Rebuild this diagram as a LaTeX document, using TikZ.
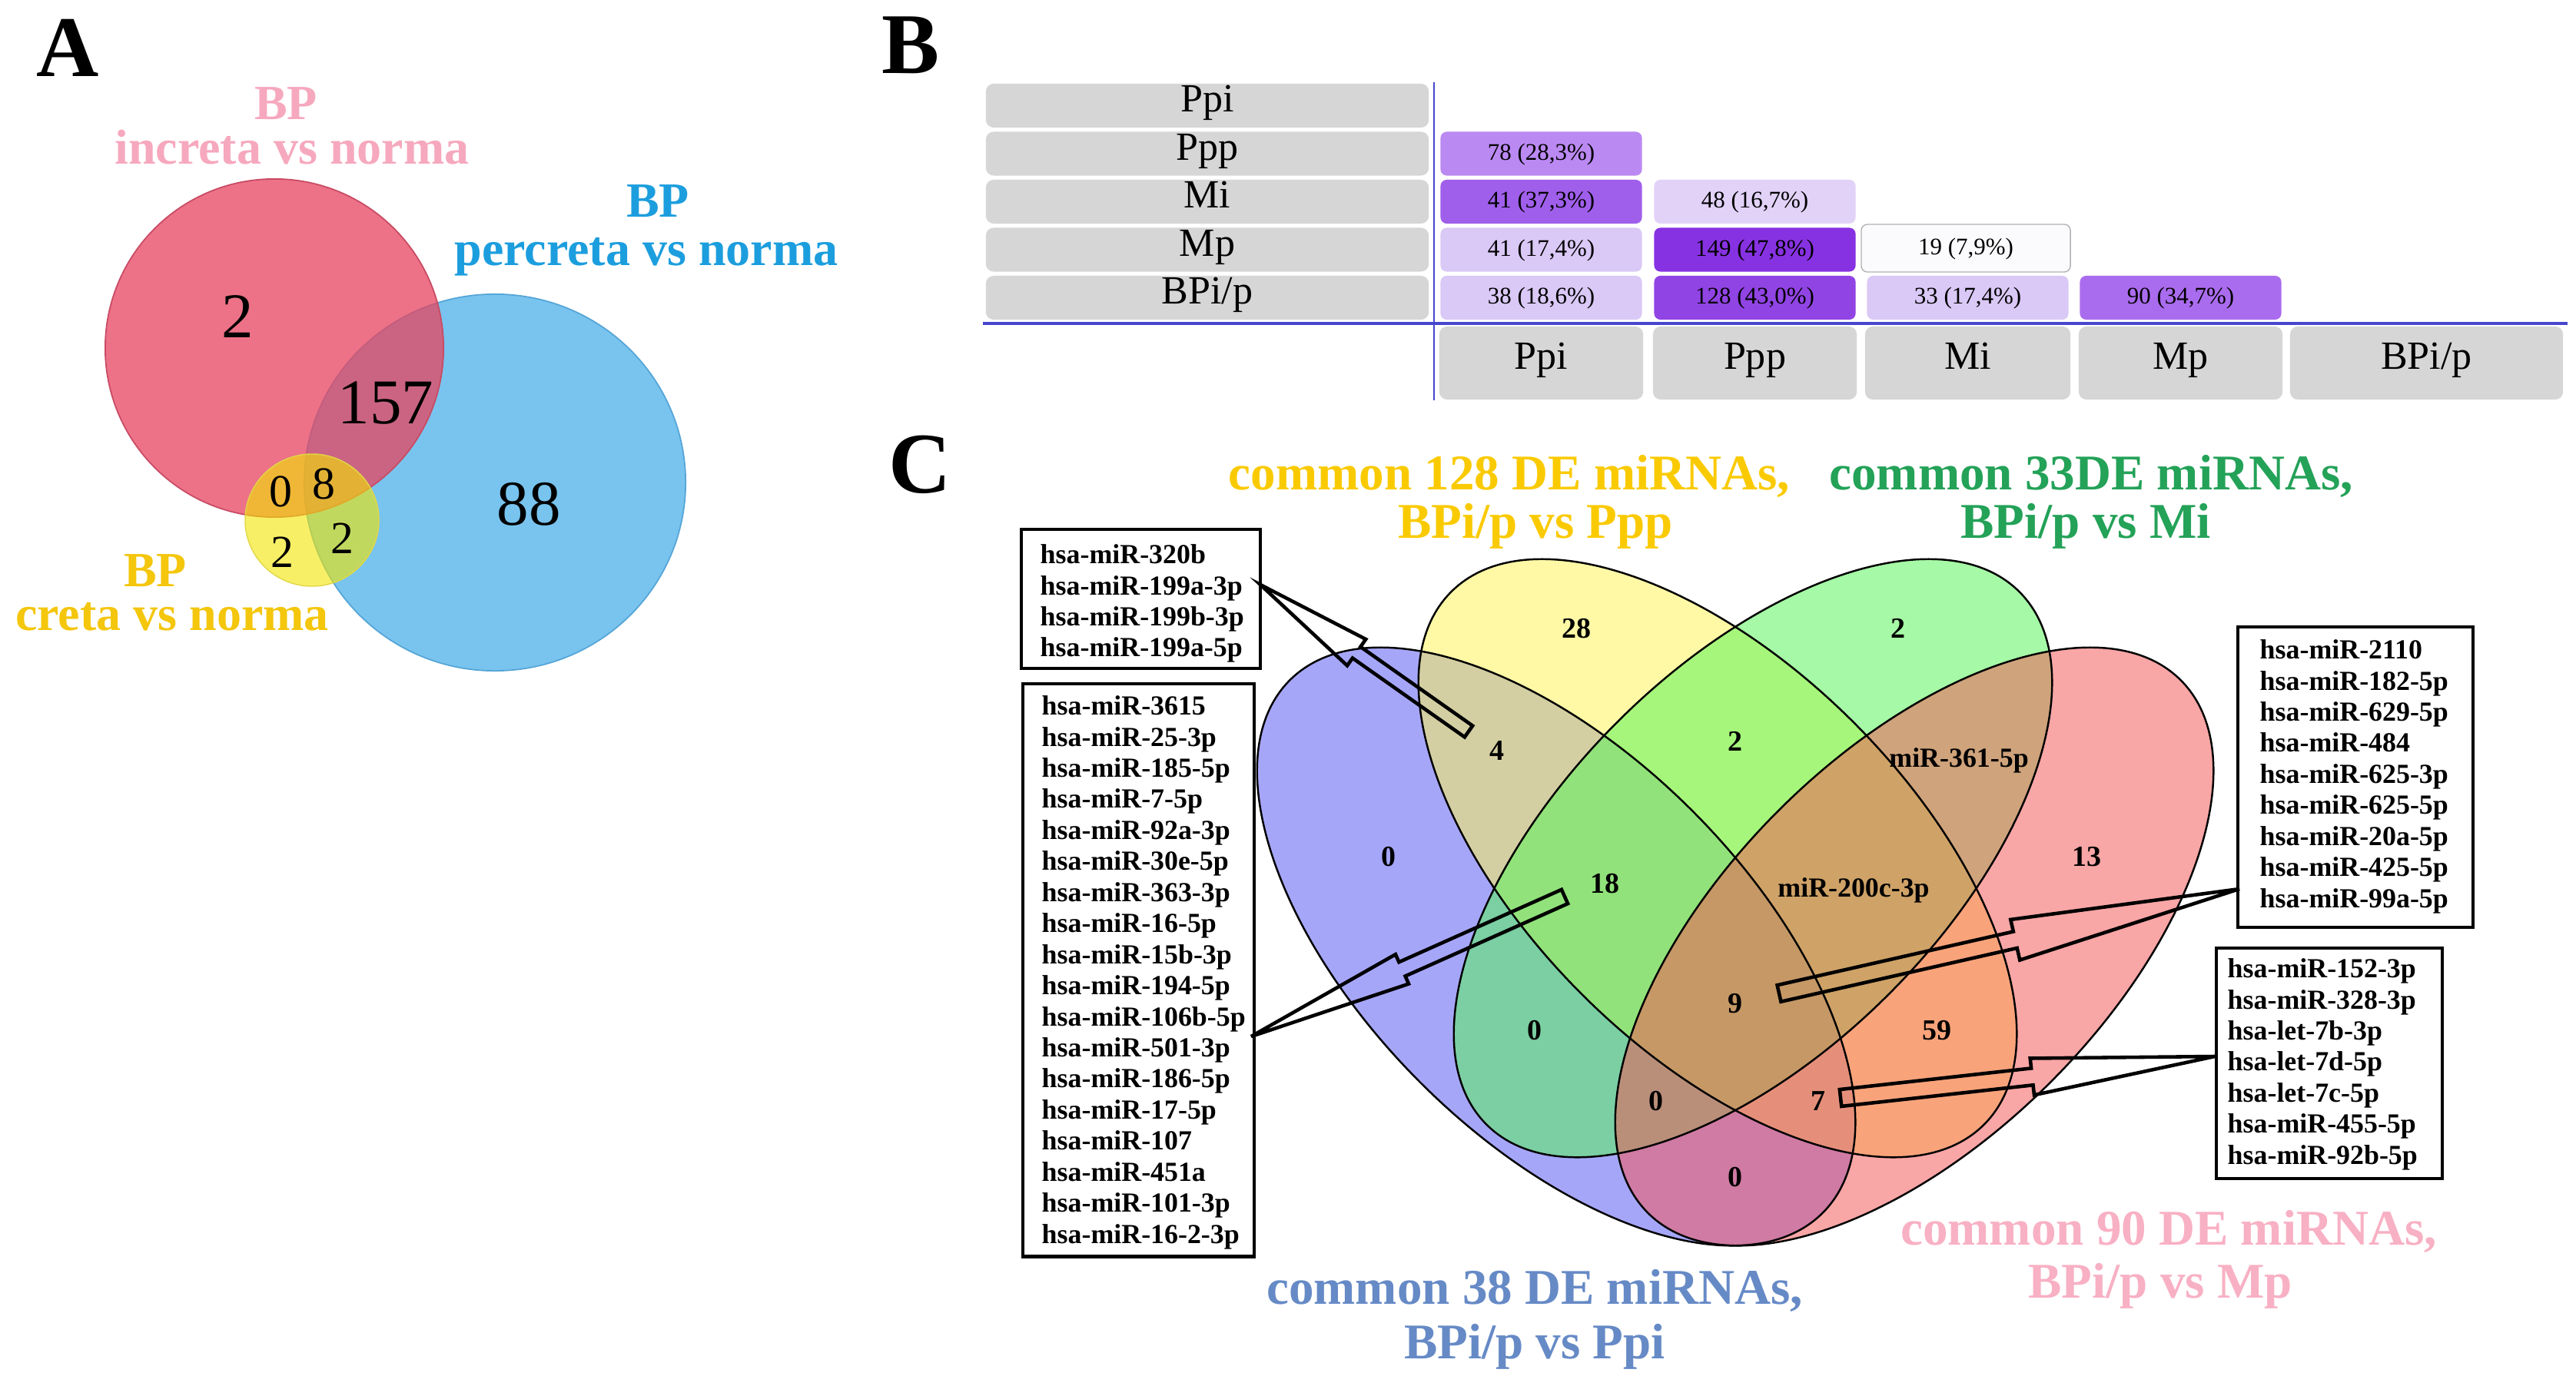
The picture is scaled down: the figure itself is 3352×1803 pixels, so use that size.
\documentclass[tikz,border=0pt]{standalone}
\usepackage{fontspec}
\setmainfont{Liberation Serif}
\usetikzlibrary{calc}
\definecolor{pinkA}{RGB}{246,168,190}
\definecolor{blueA}{RGB}{28,158,222}
\definecolor{yellowA}{RGB}{244,198,12}
\definecolor{redC}{RGB}{232,68,95}
\definecolor{redE}{RGB}{200,75,100}
\definecolor{blueC}{RGB}{120,196,238}
\definecolor{blueE}{RGB}{85,165,215}
\definecolor{yelC}{RGB}{243,230,0}
\definecolor{yelE}{RGB}{225,215,70}
\definecolor{gbox}{RGB}{214,214,214}
\definecolor{blin}{RGB}{70,70,205}
\definecolor{pA}{RGB}{187,137,242}
\definecolor{pB}{RGB}{160,95,235}
\definecolor{pC}{RGB}{226,210,248}
\definecolor{pD}{RGB}{218,200,246}
\definecolor{pE}{RGB}{135,50,226}
\definecolor{pF}{RGB}{251,250,253}
\definecolor{pG}{RGB}{145,68,228}
\definecolor{pH}{RGB}{170,108,238}
\definecolor{vblue}{RGB}{85,85,245}
\definecolor{vyel}{RGB}{255,245,85}
\definecolor{vgreen}{RGB}{85,245,85}
\definecolor{vpink}{RGB}{245,85,85}
\definecolor{tyel}{RGB}{250,202,0}
\definecolor{tgreen}{RGB}{35,162,88}
\definecolor{tblue}{RGB}{102,138,198}
\definecolor{tpink}{RGB}{248,176,196}
\newcommand{\fsz}[2]{\fontsize{#1}{#2}\selectfont}
% tip, end, head length, head half-width, shaft half-width
\newcommand{\blockarrow}[5]{%
  \draw[blockarr] (#1) -- ($(#1)!#3!(#2)!#4!90:(#2)$) -- ($(#1)!#3!(#2)!#5!90:(#2)$)
   -- ($(#2)!#5!-90:(#1)$) -- ($(#2)!#5!90:(#1)$)
   -- ($(#1)!#3!(#2)!#5!-90:(#2)$) -- ($(#1)!#3!(#2)!#4!-90:(#2)$) -- cycle;}
\begin{document}
\begin{tikzpicture}[x=0.01cm,y=-0.01cm,
  panel/.style={font=\bfseries\fsz{32}{34}, anchor=base, inner sep=0},
  alab/.style={font=\bfseries\fsz{18.2}{20}, anchor=base, inner sep=0},
  anumbig/.style={font=\fsz{23.6}{25}, anchor=base, inner sep=0},
  anumsm/.style={font=\fsz{17}{18}, anchor=base, inner sep=0},
  rowlab/.style={fill=gbox, rounded corners=0.1cm, minimum width=5.76cm, minimum height=0.57cm, inner sep=0, font=\fsz{14.8}{16}, text height=0.68em, text depth=0.2em},
  collab/.style={fill=gbox, rounded corners=0.1cm, minimum height=0.95cm, inner sep=0, font=\fsz{14.8}{16}, text height=0.68em, text depth=0.2em},
  cell/.style={rounded corners=0.08cm, minimum width=2.62cm, minimum height=0.57cm, inner sep=0, font=\fsz{8.8}{10}, text height=0.68em, text depth=0.2em},
  ctitle/.style={font=\bfseries\fsz{18.5}{20}, anchor=base, inner sep=0},
  vnum/.style={font=\bfseries\fsz{10.8}{12}, inner sep=0},
  vmir/.style={font=\bfseries\fsz{10.2}{12}, inner sep=0},
  listbox/.style={draw=black, line width=1.2pt, fill=white, inner sep=0, anchor=north west},
  listtext/.style={font=\bfseries\fsz{10.2}{11.5}, align=left, inner sep=0, anchor=north west},
  blockarr/.style={draw=black, line width=1.3pt, line join=miter},
  vfill/.style={fill opacity=0.52},
  vedge/.style={draw=black, line width=0.7pt}
]
\fill[white] (0,0) rectangle (3352,1803);
\useasboundingbox (0,0) rectangle (3352,1803);

% ================= Panel A =================
\node[panel] (labA) at (88,100) {A};
\fill[blueC] (644,628) ellipse [x radius=2.48cm, y radius=2.45cm];
\draw[blueE, line width=0.5pt] (644,628) ellipse [x radius=2.48cm, y radius=2.45cm];
\fill[redC, fill opacity=0.75] (357,453) circle [radius=2.2cm];
\draw[redE, line width=0.5pt] (357,453) circle [radius=2.2cm];
\fill[yelC, fill opacity=0.6] (406,677) ellipse [x radius=0.87cm, y radius=0.86cm];
\draw[yelE, line width=0.4pt] (406,677) ellipse [x radius=0.87cm, y radius=0.86cm];

\node[alab, text=pinkA] (aBP1) at (372,156) {BP};
\node[alab, text=pinkA] (aInc) at (380,213) {increta vs norma};
\node[alab, text=blueA] (aBP2) at (856,282) {BP};
\node[alab, text=blueA] (aPer) at (841,345) {percreta vs norma};
\node[alab, text=yellowA] (aBP3) at (202,763) {BP};
\node[alab, text=yellowA] (aCre) at (224,820) {creta vs norma};

\node[anumbig] (n2) at (309,439) {2};
\node[anumbig] (n157) at (502,551) {157};
\node[anumbig] (n88) at (688,683) {88};
\node[anumsm] (n0) at (365,659) {0};
\node[anumsm] (n8) at (421,649) {8};
\node[anumsm] (n2a) at (367,738) {2};
\node[anumsm] (n2b) at (445,720) {2};

% ================= Panel B =================
\node[panel] (labB) at (1185,96) {B};
\node[rowlab] (rPpi) at (1571,137.5) {Ppi};
\node[rowlab] (rPpp) at (1571,200) {Ppp};
\node[rowlab] (rMi) at (1571,262.5) {Mi};
\node[rowlab] (rMp) at (1571,325) {Mp};
\node[rowlab] (rBP) at (1571,387.5) {BPi/p};

\node[collab, minimum width=2.65cm] (cPpi) at (2005.5,472.5) {Ppi};
\node[collab, minimum width=2.65cm] (cPpp) at (2283.5,472.5) {Ppp};
\node[collab, minimum width=2.67cm] (cMi) at (2560.5,472.5) {Mi};
\node[collab, minimum width=2.65cm] (cMp) at (2837.5,472.5) {Mp};
\node[collab, minimum width=3.55cm] (cBP) at (3157.5,472.5) {BPi/p};

\node[cell, fill=pA] (x21) at (2005.5,200) {78 (28,3\%)};
\node[cell, fill=pB] (x31) at (2005.5,262.5) {41 (37,3\%)};
\node[cell, fill=pC] (x32) at (2283.5,262.5) {48 (16,7\%)};
\node[cell, fill=pD] (x41) at (2005.5,325) {41 (17,4\%)};
\node[cell, fill=pE] (x42) at (2283.5,325) {149 (47,8\%)};
\node[cell, fill=pF, draw=black!30, line width=0.4pt, minimum width=2.72cm, minimum height=0.62cm] (x43) at (2558,323) {19 (7,9\%)};
\node[cell, fill=pD] (x51) at (2005.5,387.5) {38 (18,6\%)};
\node[cell, fill=pG] (x52) at (2283.5,387.5) {128 (43,0\%)};
\node[cell, fill=pD] (x53) at (2560.5,387.5) {33 (17,4\%)};
\node[cell, fill=pH] (x54) at (2837.5,387.5) {90 (34,7\%)};

\coordinate (vtop) at (1866,107);
\coordinate (vbot) at (1866,521);
\coordinate (hleft) at (1279,421);
\coordinate (hright) at (3341,421);
\draw[blin, line width=0.6pt] (vtop) -- (vbot);
\draw[blin, line width=1.1pt] (hleft) -- (hright);

% ================= Panel C =================
\node[panel] (labC) at (1197,641) {C};

\fill[vblue, vfill, rotate around={-45:(2025,1232)}] (2025,1232) ellipse [x radius=4.9cm, y radius=2.5cm];
\fill[vyel, vfill, rotate around={-45:(2235,1117)}] (2235,1117) ellipse [x radius=4.9cm, y radius=2.5cm];
\fill[vgreen, vfill, rotate around={45:(2281,1117)}] (2281,1117) ellipse [x radius=4.9cm, y radius=2.5cm];
\fill[vpink, vfill, rotate around={45:(2491,1232)}] (2491,1232) ellipse [x radius=4.9cm, y radius=2.5cm];
\draw[vedge, rotate around={-45:(2025,1232)}] (2025,1232) ellipse [x radius=4.9cm, y radius=2.5cm];
\draw[vedge, rotate around={-45:(2235,1117)}] (2235,1117) ellipse [x radius=4.9cm, y radius=2.5cm];
\draw[vedge, rotate around={45:(2281,1117)}] (2281,1117) ellipse [x radius=4.9cm, y radius=2.5cm];
\draw[vedge, rotate around={45:(2491,1232)}] (2491,1232) ellipse [x radius=4.9cm, y radius=2.5cm];

\node[ctitle, text=tyel] (t1a) at (1964,637) {common 128 DE miRNAs,};
\node[ctitle, text=tyel] (t1b) at (1998,700) {BPi/p vs Ppp};
\node[ctitle, text=tgreen] (t2a) at (2721,637) {common 33DE miRNAs,};
\node[ctitle, text=tgreen] (t2b) at (2714,700) {BPi/p vs Mi};
\node[ctitle, text=tblue] (t3a) at (1997,1697) {common 38 DE miRNAs,};
\node[ctitle, text=tblue] (t3b) at (1997,1768) {BPi/p vs Ppi};
\node[ctitle, text=tpink] (t4a) at (2822,1620) {common 90 DE miRNAs,};
\node[ctitle, text=tpink] (t4b) at (2811,1689) {BPi/p vs Mp};

\node[vnum] (r28) at (2051,818) {28};
\node[vnum] (r2g) at (2470,818) {2};
\node[vnum] (r4) at (1948,977) {4};
\node[vnum] (r2c) at (2258,965) {2};
\node[vmir] (r361) at (2549,990) {miR-361-5p};
\node[vnum] (r0b) at (1807,1115) {0};
\node[vnum] (r13) at (2715,1115) {13};
\node[vnum] (r18) at (2088,1150) {18};
\node[vmir] (r200) at (2412,1159) {miR-200c-3p};
\node[vnum] (r9) at (2258,1306) {9};
\node[vnum] (r0t) at (1997,1341) {0};
\node[vnum] (r59) at (2520,1341) {59};
\node[vnum] (r0l) at (2155,1433) {0};
\node[vnum] (r7) at (2366,1433) {7};
\node[vnum] (r0m) at (2258,1532) {0};

% list boxes
\node[listbox, minimum width=3.11cm, minimum height=1.81cm] (box1) at (1327,687) {};
\node[listtext] (list1) at (1353,708) {hsa-miR-320b\\hsa-miR-199a-3p\\hsa-miR-199b-3p\\hsa-miR-199a-5p};
\node[listbox, minimum width=3.01cm, minimum height=7.45cm] (box2) at (1329,888) {};
\node[listtext] (list2) at (1355,905) {hsa-miR-3615\\hsa-miR-25-3p\\hsa-miR-185-5p\\hsa-miR-7-5p\\hsa-miR-92a-3p\\hsa-miR-30e-5p\\hsa-miR-363-3p\\hsa-miR-16-5p\\hsa-miR-15b-3p\\hsa-miR-194-5p\\hsa-miR-106b-5p\\hsa-miR-501-3p\\hsa-miR-186-5p\\hsa-miR-17-5p\\hsa-miR-107\\hsa-miR-451a\\hsa-miR-101-3p\\hsa-miR-16-2-3p};
\node[listbox, minimum width=3.06cm, minimum height=3.91cm] (box3) at (2910,814) {};
\node[listtext] (list3) at (2940,832) {hsa-miR-2110\\hsa-miR-182-5p\\hsa-miR-629-5p\\hsa-miR-484\\hsa-miR-625-3p\\hsa-miR-625-5p\\hsa-miR-20a-5p\\hsa-miR-425-5p\\hsa-miR-99a-5p};
\node[listbox, minimum width=2.94cm, minimum height=3.0cm] (box4) at (2882,1232) {};
\node[listtext] (list4) at (2898,1247) {hsa-miR-152-3p\\hsa-miR-328-3p\\hsa-let-7b-3p\\hsa-let-7d-5p\\hsa-let-7c-5p\\hsa-miR-455-5p\\hsa-miR-92b-5p};

% block arrows
\coordinate (a1tip) at (1640,761);
\coordinate (a1end) at (1911,952);
\coordinate (a2tip) at (1628,1349);
\coordinate (a2end) at (2036,1167);
\coordinate (a3tip) at (2914,1157);
\coordinate (a3end) at (2315,1293);
\coordinate (a4tip) at (2882,1375);
\coordinate (a4end) at (2395,1429);
\blockarrow{a1tip}{a1end}{1.53cm}{0.21cm}{0.09cm}
\blockarrow{a2tip}{a2end}{2.15cm}{0.21cm}{0.10cm}
\blockarrow{a3tip}{a3end}{2.99cm}{0.27cm}{0.11cm}
\blockarrow{a4tip}{a4end}{2.39cm}{0.24cm}{0.11cm}
\end{tikzpicture}
\end{document}
